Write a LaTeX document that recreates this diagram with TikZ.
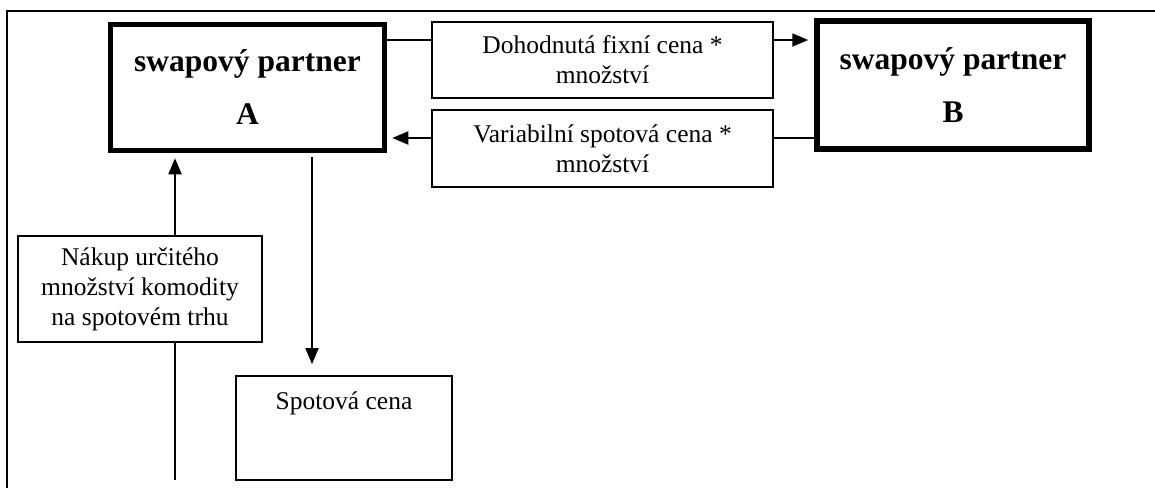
\documentclass[tikz,border=0pt]{standalone}
\usepackage{fontspec}
\setmainfont{Liberation Serif}
\usetikzlibrary{arrows.meta}

\tikzset{
  partner/.style={draw, line width=5.5pt, align=center, inner sep=0pt,
    font=\bfseries\fontsize{31.5}{53}\selectfont},
  infobox/.style={draw, line width=1.7pt, align=center, inner sep=0pt,
    font=\fontsize{25.5}{30}\selectfont},
  flow/.style={line width=1.8pt},
  flowarrow/.style={flow, -{Triangle[length=16pt,width=13pt]}},
}

\begin{document}
\begin{tikzpicture}[x=1pt,y=-1pt]
  \useasboundingbox (0,0) rectangle (1155,488);

  % outer frame (left and top edges)
  \draw[line width=2pt] (7,488) -- (7,11) -- (1155,11);

  % the two swap partners
  \node[partner, minimum width=274pt, minimum height=126pt] (A) at (247.5,87.5)
    {swapový partner\\A};
  \node[partner, minimum width=272pt, minimum height=128pt] (B) at (953,85)
    {swapový partner\\B};

  % payment flows between the partners
  \node[infobox, minimum width=341pt, minimum height=76pt] (D) at (602.5,60)
    {Dohodnutá fixní cena *\\množství};
  \node[infobox, minimum width=341pt, minimum height=77pt] (V) at (602.5,148.5)
    {Variabilní spotová cena *\\množství};

  % spot market
  \node[infobox, minimum width=244pt, minimum height=106pt] (N) at (140,289)
    {Nákup určitého\\množství komodity\\na spotovém trhu};
  \node[infobox, minimum width=216pt, inner ysep=16pt,
        text height=17pt, text depth=55pt] (S) at (344,428)
    {Spotová cena};

  % fixed leg: A -> B
  \draw[flow] ([yshift=20pt]D.west) -- ([yshift=20pt]D.west -| A.east);
  \draw[flowarrow, shorten >=6pt] ([yshift=20pt]D.east) -- ([yshift=20pt]D.east -| B.west);

  % floating leg: B -> A
  \draw[flow] ([yshift=10.5pt]V.east) -- ([yshift=10.5pt]V.east -| B.west);
  \draw[flowarrow, shorten >=5pt] ([yshift=10.5pt]V.west) -- ([yshift=10.5pt]V.west -| A.east);

  % purchase on the spot market feeding partner A
  \coordinate (buy) at (175,480);
  \draw[flow] (buy) -- (buy |- N.south);
  \draw[flowarrow, shorten >=5pt] (buy |- N.north) -- (buy |- A.south);

  % partner A settles at the spot price
  \draw[flowarrow, shorten <=4pt, shorten >=11pt]
    ([xshift=-32pt]S.north |- A.south) -- ([xshift=-32pt]S.north);
\end{tikzpicture}
\end{document}
